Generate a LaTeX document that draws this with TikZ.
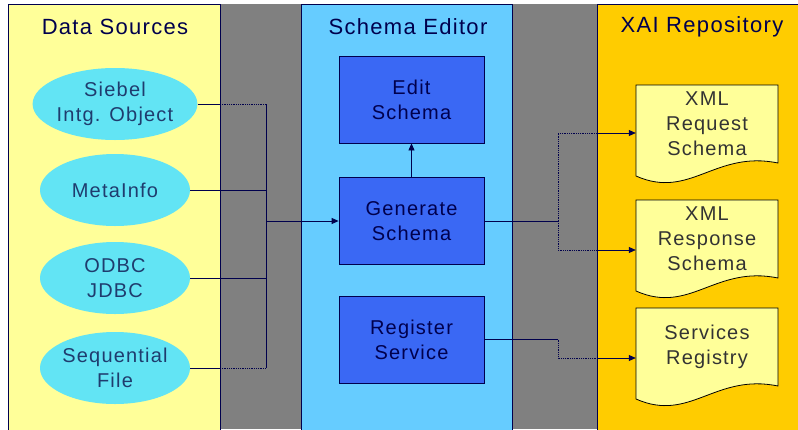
\documentclass[tikz,border=0pt]{standalone}
\usepackage{fontspec}
\setmainfont[LetterSpace=6]{Liberation Sans}
\usetikzlibrary{arrows.meta,calc,shapes.geometric}

\definecolor{dsyellow}{HTML}{FFFF99}
\definecolor{sepanel}{HTML}{66CCFF}
\definecolor{xaiorange}{HTML}{FFCC00}
\definecolor{gapgray}{HTML}{808080}
\definecolor{ovalcyan}{HTML}{62E4F4}
\definecolor{stepblue}{HTML}{3A68F4}
\definecolor{navy}{HTML}{00004D}
\definecolor{ovaltext}{HTML}{1F3C6E}

% sheet with a wavy bottom, centred at (#1,#2)
\newcommand{\docsheet}[2]{%
  \filldraw[draw=black, fill=dsyellow, line width=0.8pt]
    ({#1-71},{#2-39}) -- ({#1+71},{#2-39}) -- ({#1+71},{#2+39})
    .. controls ({#1+8},{#2+26}) and ({#1-17},{#2+76}) .. ({#1-71},{#2+52}) -- cycle;}

\begin{document}
\begin{tikzpicture}[x=1pt,y=-1pt,
    title/.style={font=\fontsize{22}{26}\selectfont, text=navy},
    oval/.style={ellipse, fill=ovalcyan, minimum width=150pt, minimum height=72pt,
      inner sep=0pt, align=center, text=ovaltext, font=\fontsize{20}{25}\selectfont},
    stepbox/.style={rectangle, draw=navy, fill=stepblue, line width=0.8pt,
      minimum width=145pt, minimum height=87pt, align=center, text=navy,
      font=\fontsize{20}{25}\selectfont},
    docbox/.style={rectangle, minimum width=142pt, minimum height=78pt, inner sep=0pt,
      align=center, text=black!80, font=\fontsize{20}{25}\selectfont},
    wire/.style={draw=navy, line width=0.8pt},
    feed/.style={wire, -{Triangle[length=7pt,width=6pt]}}]
    \useasboundingbox (0,0) rectangle (798,429);

    %panels
    \fill[gapgray] (8,4) rectangle (798,429);
    \filldraw[fill=dsyellow, draw=navy, line width=0.8pt] (8,4) rectangle (220,432);
    \filldraw[fill=sepanel, draw=navy, line width=0.8pt] (301,4) rectangle (512,432);
    \filldraw[fill=xaiorange, draw=navy, line width=0.8pt] (597,4) rectangle (802,432);
    \node[title] (dstitle) at (115,27) {Data Sources};
    \node[title] (setitle) at (408,27) {Schema Editor};
    \node[title] (xaititle) at (702,27) {XAI Repository};

    %data sources
    \node[oval] (siebel) at (115,104) {Siebel\\Intg. Object};
    \node[oval] (meta) at (115,190) {MetaInfo};
    \node[oval] (odbc) at (115,278) {ODBC\\JDBC};
    \node[oval] (seqfile) at (115,368) {Sequential\\File};

    %schema editor
    \node[stepbox] (edit) at (411.5,99.5) {Edit\\Schema};
    \node[stepbox] (gen) at (411.5,221) {Generate\\Schema};
    \node[stepbox] (reg) at (411.5,339.5) {Register\\Service};

    %repository
    \docsheet{707}{124}
    \node[docbox] (req) at (707,124) {XML\\Request\\Schema};
    \docsheet{707}{239}
    \node[docbox] (resp) at (707,239) {XML\\Response\\Schema};
    \docsheet{707}{347}
    \node[docbox] (services) at (707,347) {Services\\Registry};

    %bus points
    \coordinate (dsedge) at (220,0);
    \coordinate (bustop) at (266,104);
    \coordinate (busmid) at (266,221);
    \coordinate (busbot) at (266,368);
    \coordinate (outsplit) at (558,0);
    \coordinate (xaiedge) at (597,0);

    %arrows into the editor
    \draw[wire] (siebel.east) -- (siebel.east -| dsedge);
    \draw[wire, densely dotted] (siebel.east -| dsedge) -- (bustop);
    \draw[wire] (meta.east) -- (meta.east -| bustop);
    \draw[wire] (odbc.east) -- (odbc.east -| bustop);
    \draw[wire] (seqfile.east) -- (seqfile.east -| dsedge);
    \draw[wire, densely dotted] (seqfile.east -| dsedge) -- (busbot);
    \draw[wire] (bustop) -- (busbot);
    \draw[feed] (busmid) -- (gen.west);
    \draw[feed] (gen.north) -- (edit.south);

    %arrows into the repository
    \draw[wire] (gen.east) -- (gen.east -| outsplit);
    \draw[wire, densely dotted] (gen.east -| outsplit) |- ([yshift=-9pt]req.west -| xaiedge);
    \draw[wire, densely dotted] (gen.east -| outsplit) |- ([yshift=-11pt]resp.west -| xaiedge);
    \draw[feed] ([yshift=-9pt]req.west -| xaiedge) -- ([yshift=-9pt]req.west);
    \draw[feed] ([yshift=-11pt]resp.west -| xaiedge) -- ([yshift=-11pt]resp.west);
    \draw[wire] (reg.east) -- (reg.east -| outsplit);
    \draw[wire, densely dotted] (reg.east -| outsplit) |- ([yshift=-11pt]services.west -| xaiedge);
    \draw[feed] ([yshift=-11pt]services.west -| xaiedge) -- ([yshift=-11pt]services.west);
\end{tikzpicture}
\end{document}
